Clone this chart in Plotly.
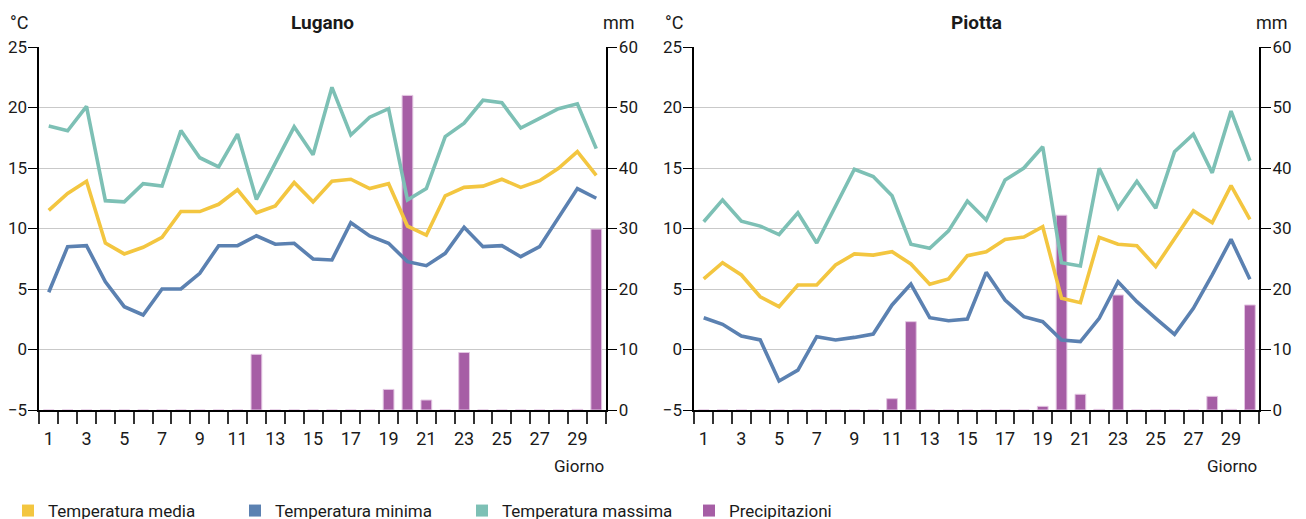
import plotly.graph_objects as go

days = list(range(1, 31))
tick_days = list(range(1, 31, 2))

lug_media = [11.5, 12.9, 13.9, 8.8, 7.9, 8.45, 9.27, 11.4, 11.4, 12.0, 13.2, 11.3, 11.86, 13.8, 12.2,
             13.9, 14.07, 13.3, 13.7, 10.2, 9.46, 12.7, 13.4, 13.5, 14.07, 13.4, 13.95, 14.97, 16.35, 14.4]
lug_min = [4.73, 8.5, 8.58, 5.6, 3.54, 2.85, 5.0, 5.0, 6.3, 8.58, 8.58, 9.4, 8.7, 8.78, 7.48,
           7.4, 10.48, 9.38, 8.78, 7.26, 6.93, 7.95, 10.1, 8.5, 8.58, 7.67, 8.5, 10.9, 13.3, 12.5]
lug_max = [18.47, 18.08, 20.1, 12.3, 12.2, 13.7, 13.5, 18.1, 15.85, 15.1, 17.8, 12.4, 15.4, 18.4, 16.1,
           21.67, 17.73, 19.2, 19.9, 12.36, 13.3, 17.6, 18.7, 20.6, 20.4, 18.3, 19.1, 19.9, 20.3, 16.6]
lug_prec = [0, 0, 0, 0, 0, 0, 0, 0, 0, 0, 0, 9.2, 0, 0, 0,
            0, 0, 0, 3.4, 52.0, 1.65, 0, 9.5, 0, 0, 0, 0, 0, 0.1, 29.9]

pio_media = [5.83, 7.17, 6.16, 4.36, 3.54, 5.33, 5.33, 6.98, 7.9, 7.8, 8.08, 7.07, 5.39, 5.83, 7.75,
             8.08, 9.1, 9.3, 10.15, 4.23, 3.87, 9.27, 8.7, 8.58, 6.85, 9.2, 11.47, 10.48, 13.54, 10.76]
pio_min = [2.63, 2.08, 1.12, 0.79, -2.6, -1.7, 1.06, 0.79, 1.0, 1.28, 3.68, 5.41, 2.63, 2.38, 2.52,
           6.38, 4.09, 2.71, 2.3, 0.79, 0.65, 2.58, 5.6, 3.95, 2.58, 1.26, 3.4, 6.16, 9.1, 5.8]
pio_max = [10.56, 12.36, 10.6, 10.2, 9.5, 11.3, 8.8, 11.8, 14.9, 14.3, 12.7, 8.7, 8.36, 9.8, 12.27,
           10.7, 14.0, 15.0, 16.76, 7.17, 6.9, 14.97, 11.67, 13.9, 11.67, 16.35, 17.8, 14.6, 19.7, 15.6]
pio_prec = [0, 0, 0, 0, 0, 0, 0, 0, 0, 0, 1.87, 14.6, 0, 0, 0,
            0, 0, 0, 0.6, 32.2, 2.6, 0.1, 19.0, 0, 0, 0, 0, 2.26, 0.1, 17.36]

stations = ["Lugano", "Piotta"]
legend_names = ["Temperatura media", "Temperatura minima", "Temperatura massima", "Precipitazioni"]

C_MEDIA = "#F3C640"
C_MIN = "#5B81B1"
C_MAX = "#7DC0B5"
C_PREC = "#A65EA5"
FONT = "Roboto, Liberation Sans, sans-serif"
TXT = "#1a1a1a"

fig = go.Figure()

data = [(lug_media, lug_min, lug_max, lug_prec), (pio_media, pio_min, pio_max, pio_prec)]
for i, (med, mn, mx, pr) in enumerate(data):
    xa = "x" if i == 0 else "x2"
    ya_mm = "y" if i == 0 else "y3"
    ya_c = "y2" if i == 0 else "y4"
    fig.add_trace(go.Bar(x=days, y=pr, xaxis=xa, yaxis=ya_mm, marker_color=C_PREC,
                         marker_line=dict(color="#E3C6E2", width=1), width=0.57, showlegend=False))
    for vals, col in [(mn, C_MIN), (mx, C_MAX), (med, C_MEDIA)]:
        fig.add_trace(go.Scatter(x=days, y=vals, xaxis=xa, yaxis=ya_c, mode="lines",
                                 line=dict(color=col, width=3.6), showlegend=False))

for name, col in zip(legend_names, [C_MEDIA, C_MIN, C_MAX, C_PREC]):
    fig.add_trace(go.Scatter(x=[None], y=[None], mode="markers", name=name,
                             marker=dict(symbol="square", size=13, color=col), showlegend=True))

W, H = 1306, 519
OFF = 8  # page offset of the figure inside the browser window


def px(xr):
    return (xr - OFF) / W


def py(yr):
    return 1 - (yr - OFF) / H


top, bot = 47, 410
ydom = [py(bot), py(top)]
xdoms = [[px(39.3), px(605.7)], [px(694.3), px(1259.3)]]

axis_font = dict(family=FONT, size=17, color=TXT)


def xaxis_cfg(dom):
    return dict(domain=dom, range=[0.5, 30.5], tickmode="array", tickvals=tick_days,
                ticktext=[str(d) for d in tick_days], ticks="outside", ticklen=12,
                tickcolor="rgba(0,0,0,0)", tickfont=dict(family=FONT, size=18, color=TXT),
                showline=True, linecolor="#000",
                linewidth=1.5, showgrid=False, zeroline=False, fixedrange=True,
                minor=dict(tickmode="linear", tick0=0.5, dtick=1, ticks="outside", ticklen=12,
                           tickcolor="#333", tickwidth=1.5, showgrid=False))


def ymm_cfg(anchor):
    return dict(domain=ydom, anchor=anchor, side="right", range=[0, 60], dtick=10, tick0=0,
                ticks="outside", ticklen=10, tickwidth=1.2, tickcolor="#000", tickfont=axis_font,
                ticklabelstandoff=-2,
                showline=True, linecolor="#000", linewidth=1.5, showgrid=True, gridcolor="#C9C9C9",
                gridwidth=1.2, zeroline=False, fixedrange=True)


def yc_cfg(over, anchor):
    return dict(domain=ydom, anchor=anchor, overlaying=over, side="left", range=[-5, 25], dtick=5,
                tick0=0, ticks="outside", ticklen=10, tickwidth=1.2, tickcolor="#000",
                tickfont=axis_font, ticklabelstandoff=-3,
                showline=True, linecolor="#000", linewidth=1.5, showgrid=False,
                zeroline=False, fixedrange=True)


fig.update_layout(
    width=W, height=H, margin=dict(l=0, r=0, t=0, b=0, autoexpand=False),
    paper_bgcolor="white", plot_bgcolor="rgba(0,0,0,0)",
    font=dict(family=FONT, color=TXT),
    xaxis=xaxis_cfg(xdoms[0]) | dict(anchor="y"),
    xaxis2=xaxis_cfg(xdoms[1]) | dict(anchor="y3"),
    yaxis=ymm_cfg("x"),
    yaxis2=yc_cfg("y", "x"),
    yaxis3=ymm_cfg("x2"),
    yaxis4=yc_cfg("y3", "x2"),
    bargap=0.43,
    showlegend=True,
    legend=dict(orientation="h", x=0, xanchor="left", y=py(511), yanchor="middle",
                font=dict(family=FONT, size=17, color=TXT), entrywidthmode="pixels", entrywidth=182,
                itemsizing="constant", bgcolor="rgba(0,0,0,0)", tracegroupgap=0, itemwidth=30),
)

ann = []
for i, st in enumerate(stations):
    x0, x1 = xdoms[i]
    ann.append(dict(text="<b>" + st + "</b>", x=(x0 + x1) / 2, y=py(22), xref="paper", yref="paper",
                    xanchor="center", yanchor="middle", showarrow=False,
                    font=dict(family=FONT, size=19, color=TXT)))
    ann.append(dict(text="°C", x=x0 - 31 / W, y=py(22), xref="paper", yref="paper",
                    xanchor="left", yanchor="middle", showarrow=False,
                    font=dict(family=FONT, size=18, color=TXT)))
    ann.append(dict(text="mm", x=x1 + 31 / W, y=py(22), xref="paper", yref="paper",
                    xanchor="right", yanchor="middle", showarrow=False,
                    font=dict(family=FONT, size=18, color=TXT)))
    ann.append(dict(text="Giorno", x=x1, y=py(466), xref="paper", yref="paper",
                    xanchor="right", yanchor="middle", showarrow=False,
                    font=dict(family=FONT, size=17, color=TXT)))
fig.update_layout(annotations=ann)

fig.write_html("out.html")
